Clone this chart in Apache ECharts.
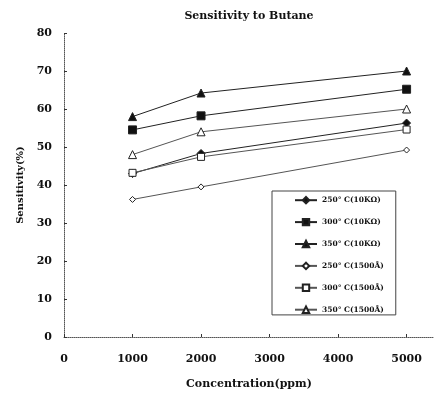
<!DOCTYPE html>
<html><head><meta charset="utf-8">
<script src="https://cdn.jsdelivr.net/npm/echarts@6/dist/echarts.min.js"></script>
<style>html,body{margin:0;padding:0;background:#fff}#c{width:437px;height:395px}</style>
</head><body><div id="c"></div>
<script>
const concentrations = [1000, 2000, 5000];
const xTicks = [0, 1000, 2000, 3000, 4000, 5000];
const yTicks = [0, 10, 20, 30, 40, 50, 60, 70, 80];
const seriesNames = ['250° C(10KΩ)', '300° C(10KΩ)', '350° C(10KΩ)', '250° C(1500Å)', '300° C(1500Å)', '350° C(1500Å)'];
const s250k = [43, 48.3, 56.3];
const s300k = [54.5, 58.2, 65.2];
const s350k = [58, 64.2, 70];
const s250a = [36.2, 39.5, 49.2];
const s300a = [43.2, 47.4, 54.6];
const s350a = [48, 54, 60];
const values = [s250k, s300k, s350k, s250a, s300a, s350a];

const symbols = ['diamond', 'rect', 'triangle', 'diamond', 'rect', 'triangle'];
const filled = [true, true, true, false, false, false];
const sizes = [8, 8, 8, 6, 7, 8];
const font = '"DejaVu Serif", "Liberation Serif", serif';

const chart = echarts.init(document.getElementById('c'), null, {renderer: 'canvas'});
chart.setOption({
  backgroundColor: '#fff',
  animation: false,
  title: {
    text: 'Sensitivity to Butane', left: 244, top: 6, textAlign: 'center',
    textStyle: {fontFamily: font, fontSize: 11, fontWeight: 'bold', color: '#111'}
  },
  legend: {
    orient: 'vertical', left: 272, top: 191,
    data: seriesNames,
    itemWidth: 22, itemHeight: 8, itemGap: 13.5,
    padding: [5, 12, 1, 22],
    borderColor: '#444', borderWidth: 1,
    textStyle: {fontFamily: font, fontSize: 7.5, fontWeight: 'bold', color: '#111'}
  },
  grid: {left: 64, top: 33, right: 3, bottom: 57},
  xAxis: {
    type: 'value', min: 0, max: 5400, interval: 1000,
    name: 'Concentration(ppm)', nameLocation: 'middle', nameGap: 42,
    nameTextStyle: {fontFamily: font, fontSize: 11, fontWeight: 'bold', color: '#111'},
    axisLine: {lineStyle: {color: '#555', type: 'dotted', width: 1}},
    axisTick: {inside: true, length: 3, lineStyle: {color: '#333'}},
    axisLabel: {fontFamily: font, fontSize: 11, fontWeight: 'bold', color: '#111', margin: 17, showMaxLabel: false,
      formatter: v => xTicks.includes(v) ? String(v) : ''},
    splitLine: {show: false}
  },
  yAxis: {
    type: 'value', min: 0, max: 80, interval: 10,
    name: 'Sensitivity(%)', nameLocation: 'middle', nameGap: 38,
    nameTextStyle: {fontFamily: font, fontSize: 10, fontWeight: 'bold', color: '#111'},
    axisLine: {show: true, lineStyle: {color: '#555', type: 'dotted', width: 1}},
    axisTick: {show: true, inside: true, length: 3, lineStyle: {color: '#333'}},
    axisLabel: {fontFamily: font, fontSize: 11, fontWeight: 'bold', color: '#111', margin: 12,
      formatter: v => yTicks.includes(v) ? String(v) : ''},
    splitLine: {show: false}
  },
  series: values.map((vals, i) => ({
    name: seriesNames[i],
    type: 'line',
    data: concentrations.map((c, j) => [c, vals[j]]),
    symbol: symbols[i],
    symbolSize: sizes[i],
    showAllSymbol: true,
    lineStyle: {color: filled[i] ? '#222' : '#555', width: 1},
    itemStyle: {color: filled[i] ? '#111' : '#fff', borderColor: '#222', borderWidth: 1},
    emphasis: {disabled: true}
  }))
});
</script></body></html>
